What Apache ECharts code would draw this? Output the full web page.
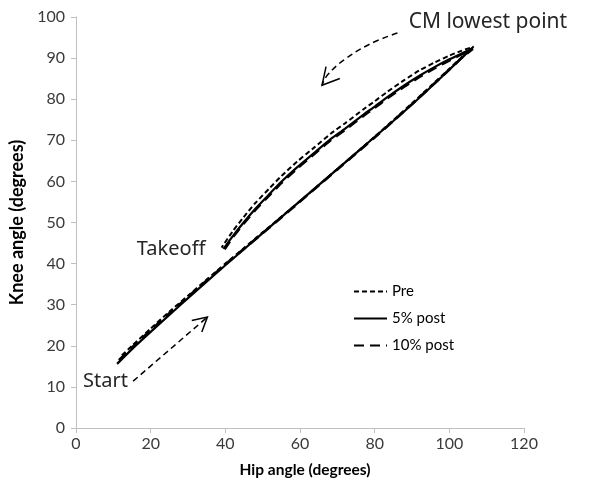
<!DOCTYPE html>
<html>
<head>
<meta charset="utf-8">
<script src="https://cdn.jsdelivr.net/npm/echarts@6/dist/echarts.min.js"></script>
<style>
  html, body { margin: 0; padding: 0; background: #fff; }
  #chart { width: 590px; height: 486px; }
</style>
</head>
<body>
<div id="chart"></div>
<script>
// Hip–knee angle loops for a countermovement jump: start -> lowest point -> takeoff
const seriesNames = ['Pre', '5% post', '10% post'];

const preHip = [12.3, 15, 20, 25, 30, 35, 40, 45, 50, 55, 60, 65, 70, 75, 80, 85, 90, 95, 100, 104, 106.5,
  103, 100, 96, 92, 88, 83.4, 80, 77.1, 72, 68.2, 64, 59.2, 55, 52, 48, 44.9, 42, 39];
const preKnee = [17.7, 20.0, 24.2, 28.3, 32.2, 36.1, 40.0, 43.8, 47.6, 51.4, 55.2, 59.1, 63.0, 66.9, 70.9, 74.9, 79.0, 83.2, 87.4, 90.8, 92.8,
  91.7, 90.6, 88.9, 87.0, 84.7, 81.8, 79.5, 77.6, 74.1, 71.6, 68.4, 64.8, 61.3, 58.5, 54.7, 51.3, 47.9, 43.9];

const post5Hip = [11, 15, 20, 25, 30, 35, 40, 45, 50, 55, 60, 65, 70, 75, 80, 85, 90, 95, 100, 104, 106.3,
  103, 100, 96, 92, 88, 83.4, 80, 77.1, 72, 68.2, 64, 59.2, 55, 52, 48, 44.9, 42, 39.5];
const post5Knee = [15.6, 19.2, 23.4, 27.5, 31.6, 35.6, 39.6, 43.5, 47.4, 51.3, 55.2, 59.1, 63.0, 66.9, 70.8, 74.7, 78.7, 82.9, 87.2, 90.6, 92.4,
  91.0, 89.7, 87.8, 85.7, 83.4, 80.5, 78.2, 76.3, 72.8, 70.3, 67.1, 63.4, 59.9, 57.1, 53.3, 50.0, 46.7, 43.6];

const post10Hip = [11.5, 15, 20, 25, 30, 35, 40, 45, 50, 55, 60, 65, 70, 75, 80, 85, 90, 95, 100, 104, 106.3,
  103, 100, 96, 92, 88, 83.4, 80, 77.1, 72, 68.2, 64, 59.2, 55, 52, 48, 44.9, 42, 39.8];
const post10Knee = [16.5, 19.6, 23.8, 27.9, 31.9, 35.9, 39.8, 43.6, 47.4, 51.2, 55.1, 59.0, 62.9, 66.8, 70.7, 74.7, 78.8, 83.0, 87.2, 90.6, 92.2,
  90.8, 89.4, 87.5, 85.4, 83.1, 80.2, 77.9, 76.0, 72.5, 70.0, 66.8, 63.1, 59.6, 56.8, 53.0, 49.7, 46.4, 43.5];

const xTicks = [0, 20, 40, 60, 80, 100, 120];
const yTicks = [0, 10, 20, 30, 40, 50, 60, 70, 80, 90, 100];

// annotation anchors, in axis units
const startArrow = [[15.3, 11.4], [35.2, 27.0]];
const cmArrow = [[86.1, 96.1], [78.9, 93.5], [71.7, 89.5], [67.3, 85.8], [65.9, 83.4]];
const noteTexts = ['CM lowest point', 'Takeoff', 'Start'];
const noteAnchors = [[89.1, 98.9], [16.3, 43.6], [1.9, 11.4]];
const noteSizes = [21, 20, 20];

const zip = (xs, ys) => xs.map((x, i) => [x, ys[i]]);

const chart = echarts.init(document.getElementById('chart'), null, { renderer: 'canvas' });

const axisText = { fontFamily: 'Lato', fontSize: 16, color: '#3a3a3a' };

const styles = [
  { width: 2, type: [5, 3] },
  { width: 2.2, type: 'solid' },
  { width: 2.6, type: [10, 6] }
];
const datasets = [zip(preHip, preKnee), zip(post5Hip, post5Knee), zip(post10Hip, post10Knee)];

chart.setOption({
  animation: false,
  backgroundColor: '#fff',
  grid: { left: 76, right: 66, top: 17, bottom: 58, containLabel: false },
  xAxis: {
    type: 'value', min: xTicks[0], max: xTicks[xTicks.length - 1], interval: 20,
    name: 'Hip angle (degrees)', nameLocation: 'middle', nameGap: 34,
    nameTextStyle: { fontFamily: 'Lato', fontSize: 15.5, fontWeight: 'bold', color: '#000', padding: [0, 0, 0, 10] },
    axisLine: { show: true, lineStyle: { color: '#bfbfbf', width: 1 } },
    axisTick: { show: true, length: 5, lineStyle: { color: '#bfbfbf' } },
    axisLabel: Object.assign({ margin: 8 }, axisText),
    splitLine: { show: false }
  },
  yAxis: {
    type: 'value', min: yTicks[0], max: yTicks[yTicks.length - 1], interval: 10,
    name: 'Knee angle (degrees)', nameLocation: 'middle', nameGap: 42,
    nameTextStyle: { fontFamily: 'Lato', fontSize: 18, fontWeight: 'bold', color: '#000' },
    axisLine: { show: true, lineStyle: { color: '#bfbfbf', width: 1 } },
    axisTick: { show: true, length: 5, lineStyle: { color: '#bfbfbf' } },
    axisLabel: Object.assign({ margin: 11 }, axisText),
    splitLine: { show: false }
  },
  legend: {
    orient: 'vertical', left: 353, top: 284, padding: 0,
    itemWidth: 33, itemHeight: 16, itemGap: 12,
    itemStyle: { opacity: 0, borderWidth: 0 },
    textStyle: { fontFamily: 'Lato', fontSize: 15, color: '#000' },
    data: seriesNames
  },
  series: seriesNames.map((name, i) => ({
    name, type: 'line', data: datasets[i], symbol: 'none', smooth: 0.2,
    lineStyle: { color: '#000', width: styles[i].width, type: styles[i].type },
    itemStyle: { color: '#000' },
    z: i === 2 ? 4 : 3
  }))
});

// dashed annotation arrows and labels, placed through the grid's coordinate system
const px = p => chart.convertToPixel({ gridIndex: 0 }, p);

function arrowHead(tip, from, len, half) {
  const ang = Math.atan2(from[1] - tip[1], from[0] - tip[0]);
  return [
    [tip[0] + len * Math.cos(ang + half), tip[1] + len * Math.sin(ang + half)],
    tip,
    [tip[0] + len * Math.cos(ang - half), tip[1] + len * Math.sin(ang - half)]
  ];
}

const sA = startArrow.map(px);
const cA = cmArrow.map(px);
const head1 = arrowHead(sA[1], sA[0], 16, 0.5);
const head2 = arrowHead(cA[cA.length - 1], cA[cA.length - 3], 19, 0.5);

const graphics = [
  { type: 'polyline', shape: { points: sA }, style: { stroke: '#000', lineWidth: 1.5, lineDash: [6, 4], fill: null }, silent: true },
  { type: 'polyline', shape: { points: head1 }, style: { stroke: '#000', lineWidth: 1.5, fill: null }, silent: true },
  { type: 'polyline', shape: { points: cA, smooth: 0.4 }, style: { stroke: '#000', lineWidth: 1.5, lineDash: [6, 4], fill: null }, silent: true },
  { type: 'polyline', shape: { points: head2 }, style: { stroke: '#000', lineWidth: 1.5, fill: null }, silent: true }
];
noteTexts.forEach((t, i) => {
  const p = px(noteAnchors[i]);
  graphics.push({
    type: 'text', x: p[0], y: p[1], silent: true,
    style: { text: t, fill: '#262626', font: noteSizes[i] + 'px "Noto Sans"', textAlign: 'left', textVerticalAlign: 'middle' }
  });
});
chart.setOption({ graphic: graphics });
</script>
</body>
</html>
